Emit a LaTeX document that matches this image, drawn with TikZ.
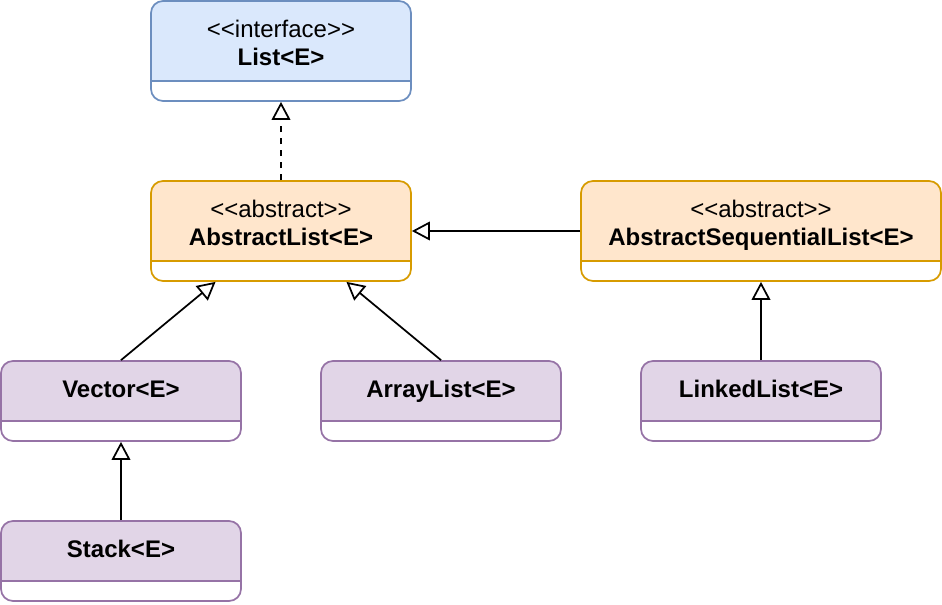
\documentclass[tikz,border=0pt]{standalone}
\usepackage{fontspec}
\setmainfont{Liberation Sans}
\usetikzlibrary{arrows.meta,calc}
\definecolor{listfill}{HTML}{DAE8FC}
\definecolor{listline}{HTML}{6C8EBF}
\definecolor{absfill}{HTML}{FFE6CC}
\definecolor{absline}{HTML}{D79B00}
\definecolor{implfill}{HTML}{E1D5E7}
\definecolor{implline}{HTML}{9673A6}
\tikzset{
  classbox/.style n args={3}{draw=#2, fill=white, line width=1.3pt,
    rounded corners=9pt, minimum width=#3, minimum height=60pt,
    align=center, font=\fontsize{18}{21}\selectfont, text depth=18pt,
    path picture={
      \fill[#1, sharp corners] (path picture bounding box.north west)
        rectangle ([yshift=15pt]path picture bounding box.south east);
      \draw[#2, sharp corners, line width=1.3pt]
        ([yshift=15pt]path picture bounding box.south west)
        -- ([yshift=15pt]path picture bounding box.south east);
    }},
  tallbox/.style={minimum height=75pt, text depth=13pt},
  extends/.style={line width=1.3pt, -{Triangle[open, length=13.5pt, width=14pt]}},
  implements/.style={extends, dash pattern=on 4.5pt off 4.5pt}
}
\begin{document}
\begin{tikzpicture}[x=0.75pt, y=-0.75pt]
  \useasboundingbox (0,0) rectangle (942,604);
  \draw
    (281,51) node[classbox={listfill}{listline}{195pt}, tallbox] (list)
      {<{}<interface>{}>\\\bfseries List<E>}
    (281,231) node[classbox={absfill}{absline}{195pt}, tallbox] (abslist)
      {<{}<abstract>{}>\\\bfseries AbstractList<E>}
    (761,231) node[classbox={absfill}{absline}{270pt}, tallbox] (absseq)
      {<{}<abstract>{}>\\\bfseries AbstractSequentialList<E>}
    (121,401) node[classbox={implfill}{implline}{180pt}] (vector)
      {\bfseries Vector<E>}
    (441,401) node[classbox={implfill}{implline}{180pt}] (arraylist)
      {\bfseries ArrayList<E>}
    (761,401) node[classbox={implfill}{implline}{180pt}] (linkedlist)
      {\bfseries LinkedList<E>}
    (121,561) node[classbox={implfill}{implline}{180pt}] (stack)
      {\bfseries Stack<E>};
  \draw[implements] (abslist.north) to (list.south);
  \begin{scope}[extends]
    \draw (absseq.west) to (abslist.east);
    \draw (vector.north) to ($(abslist.south west)!0.25!(abslist.south east)$);
    \draw (arraylist.north) to ($(abslist.south west)!0.75!(abslist.south east)$);
    \draw (linkedlist.north) to (absseq.south);
    \draw (stack.north) to (vector.south);
  \end{scope}
\end{tikzpicture}
\end{document}
